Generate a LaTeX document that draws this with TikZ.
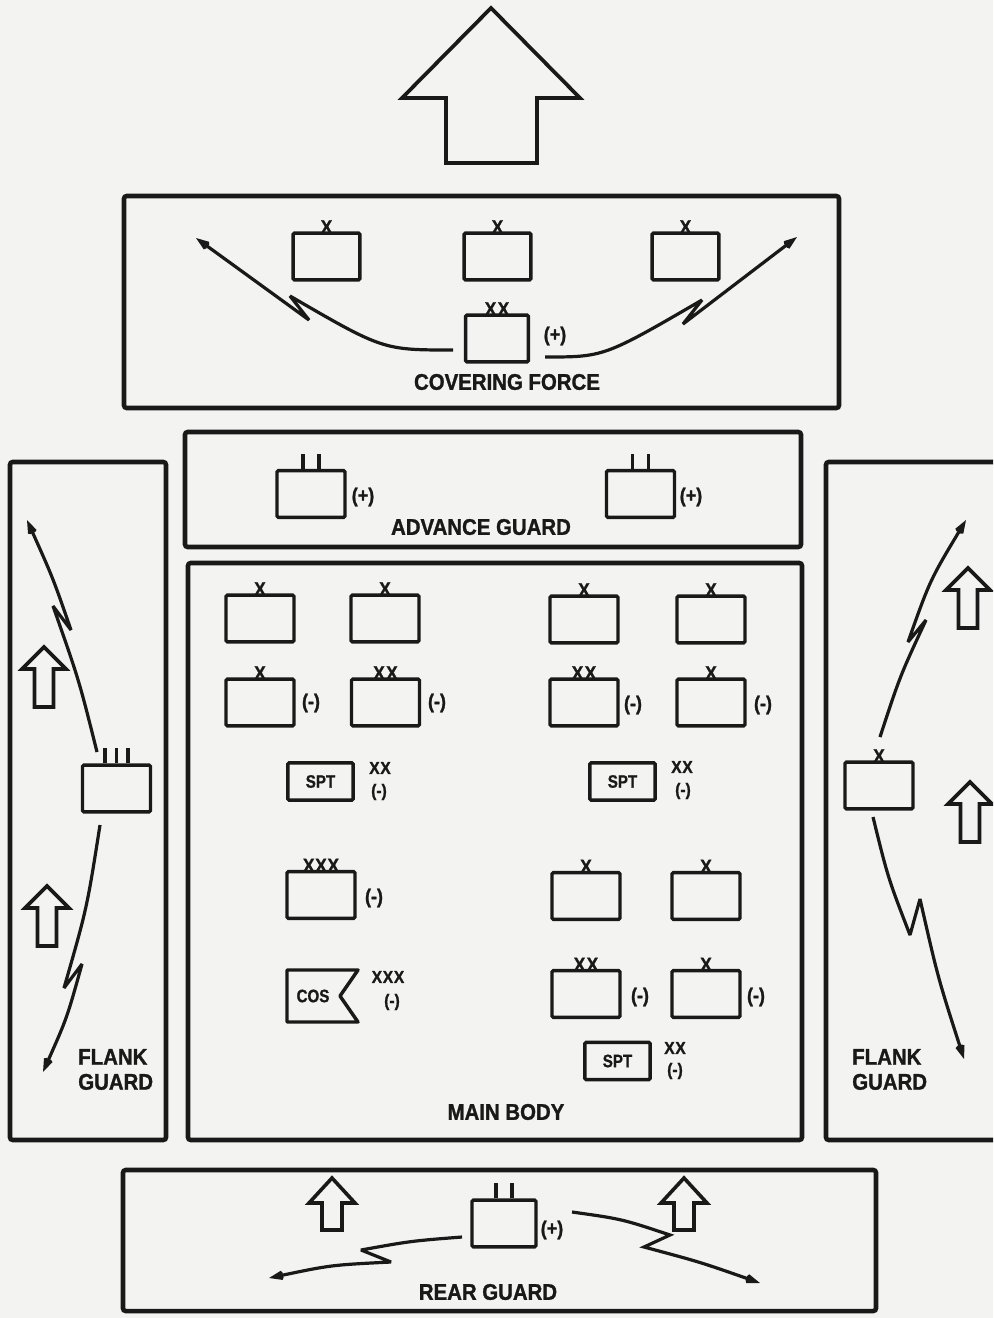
\documentclass[tikz,border=0pt]{standalone}
\usepackage{fontspec}
\setmainfont{Liberation Sans}
\newfontfamily\heavyf{Liberation Sans Bold}[FakeBold=1.2, FakeStretch=0.9]
\newfontfamily\unitf{Liberation Sans Bold}[FakeBold=1.0, FakeStretch=0.84]
\usetikzlibrary{arrows.meta,calc}
\definecolor{paper}{RGB}{243,243,241}
\definecolor{inkc}{RGB}{25,25,25}

\begin{document}
\begin{tikzpicture}[x=0.75pt,y=-0.75pt,
  frame/.style={draw=inkc, line width=3.4pt, rounded corners=2pt},
  unitbox/.style={draw=inkc, line width=2.6pt, rounded corners=1pt, minimum width=51pt, minimum height=35pt, inner sep=0pt},
  sptbox/.style={unitbox, minimum width=49pt, minimum height=28pt, font=\unitf\fontsize{13.5}{13.5}\selectfont, text=inkc},
  ech/.style={anchor=south, inner sep=0pt, yshift=-1.8pt, font=\heavyf\fontsize{14.5}{14.5}\selectfont, text=inkc},
  modf/.style={inner sep=0pt, font=\heavyf\fontsize{15}{15}\selectfont, text=inkc},
  stackf/.style={inner sep=0pt, font=\heavyf\fontsize{13}{13}\selectfont, text=inkc},
  title/.style={inner sep=0pt, font=\heavyf\fontsize{17}{18.75}\selectfont, text=inkc},
  zz/.style={draw=inkc, line width=2.4pt, miter limit=3, -{Stealth[length=14pt,width=10pt,inset=4.5pt]}},
  hollow/.style={draw=inkc, line width=2.7pt, line join=miter},
  tick/.style={draw=inkc, line width=2.5pt},
  flankup/.pic={\draw[hollow] (0,0) -- (22,22) -- (9.5,22) -- (9.5,60) -- (-9.5,60) -- (-9.5,22) -- (-22,22) -- cycle;},
  rearup/.pic={\draw[hollow] (0,0) -- (23,25) -- (10,25) -- (10,52) -- (-10,52) -- (-10,25) -- (-23,25) -- cycle;}
]
\useasboundingbox (0,0) rectangle (993,1318);
\fill[paper] (0,0) rectangle (993,1318);
\begin{scope}
\clip (0,0) rectangle (993,1318);

% ---------- big arrow ----------
\draw[hollow, line width=2.8pt] (491,8) -- (580,98) -- (537,98) -- (537,163) -- (446,163) -- (446,98) -- (402,98) -- cycle;

% ---------- frames ----------
\draw[frame] (124,196) rectangle (839,408);
\draw[frame] (185,432) rectangle (801,547);
\draw[frame] (188,563) rectangle (802,1140);
\draw[frame] (10,462) rectangle (166,1140);
\draw[frame] (826,462) rectangle (1010,1140);
\draw[frame] (123,1170) rectangle (876,1311);

% ---------- covering force ----------
\node[unitbox, minimum width=50pt] (cf1) at (326.5,256.5) {};
\node[ech] (cf1e) at (cf1.north) {X};
\node[unitbox, minimum width=50pt] (cf2) at (497.5,256.5) {};
\node[ech] (cf2e) at (cf2.north) {X};
\node[unitbox, minimum width=50pt] (cf3) at (685.5,256.5) {};
\node[ech] (cf3e) at (cf3.north) {X};
\node[unitbox, minimum width=47pt] (cfd) at (497,338.5) {};
\node[ech] (cfde) at (cfd.north) {X\kern1pt X};
\node[modf] (cfdm) at (555,336) {(+)};
\node[title] (cft) at (507,382) {COVERING FORCE};

\coordinate (cfLs) at (453,350); \coordinate (cfLa) at (290,296);
\coordinate (cfLb) at (309,320); \coordinate (cfLe) at (196,238);
\draw[zz] (cfLs) .. controls (383,350) .. (cfLa) -- (cfLb) -- (cfLe);
\coordinate (cfRs) at (545,357); \coordinate (cfRa) at (702,300);
\coordinate (cfRb) at (683,324); \coordinate (cfRe) at (797,237);
\draw[zz] (cfRs) .. controls (604,357) .. (cfRa) -- (cfRb) -- (cfRe);

% ---------- advance guard ----------
\node[unitbox] (ag1) at (311,494) {};
\draw[tick] ($(ag1.north)+(-8,0)$) -- ++(0,-15);
\draw[tick] ($(ag1.north)+(8,0)$) -- ++(0,-15);
\node[modf] (ag1m) at (363,497) {(+)};
\node[unitbox] (ag2) at (640.5,494) {};
\draw[tick] ($(ag2.north)+(-8,0)$) -- ++(0,-15);
\draw[tick] ($(ag2.north)+(8,0)$) -- ++(0,-15);
\node[modf] (ag2m) at (691,497) {(+)};
\node[title] (agt) at (481,527) {ADVANCE GUARD};

% ---------- main body, left column ----------
\node[unitbox] (m1) at (260,618.5) {};
\node[ech] (m1e) at (m1.north) {X};
\node[unitbox] (m2) at (385,618.5) {};
\node[ech] (m2e) at (m2.north) {X};
\node[unitbox] (m3) at (260,702.5) {};
\node[ech] (m3e) at (m3.north) {X};
\node[modf] (m3m) at (311,703) {(-)};
\node[unitbox] (m4) at (385.5,702.5) {};
\node[ech] (m4e) at (m4.north) {X\kern1pt X};
\node[modf] (m4m) at (437,703) {(-)};
\node[sptbox] (m5) at (320.5,781.5) {SPT};
\node[stackf] (m5e) at (380,768) {X\kern0.5pt X};
\node[stackf] (m5m) at (379,792) {(-)};
\node[unitbox] (m6) at (321,895) {};
\node[ech] (m6e) at (m6.north) {X\kern0.5pt X\kern0.5pt X};
\node[modf] (m6m) at (374,898) {(-)};
\draw[draw=inkc, line width=2.6pt, line join=round] (287,970) -- (358,970) -- (340,996) -- (358,1022) -- (287,1022) -- cycle;
\node[inner sep=0pt, font=\unitf\fontsize{13.5}{13.5}\selectfont, text=inkc] (m7) at (313,996) {COS};
\node[stackf] (m7e) at (388,977) {X\kern0.5pt X\kern0.5pt X};
\node[stackf] (m7m) at (392,1002) {(-)};

% ---------- main body, right column ----------
\node[unitbox] (n1) at (584,619.5) {};
\node[ech] (n1e) at (n1.north) {X};
\node[unitbox] (n2) at (711,619.5) {};
\node[ech] (n2e) at (n2.north) {X};
\node[unitbox] (n3) at (584,702.5) {};
\node[ech] (n3e) at (n3.north) {X\kern1pt X};
\node[modf] (n3m) at (633,705) {(-)};
\node[unitbox] (n4) at (711,702.5) {};
\node[ech] (n4e) at (n4.north) {X};
\node[modf] (n4m) at (763,705) {(-)};
\node[sptbox] (n5) at (622.5,781.5) {SPT};
\node[stackf] (n5e) at (682,767) {X\kern0.5pt X};
\node[stackf] (n5m) at (683,791) {(-)};
\node[unitbox] (n6) at (586,896) {};
\node[ech] (n6e) at (n6.north) {X};
\node[unitbox] (n7) at (706,896) {};
\node[ech] (n7e) at (n7.north) {X};
\node[unitbox] (n8) at (586,994) {};
\node[ech] (n8e) at (n8.north) {X\kern1pt X};
\node[modf] (n8m) at (640,997) {(-)};
\node[unitbox] (n9) at (706,994) {};
\node[ech] (n9e) at (n9.north) {X};
\node[modf] (n9m) at (756,997) {(-)};
\node[sptbox] (n10) at (617.5,1061) {SPT};
\node[stackf] (n10e) at (675,1048) {X\kern0.5pt X};
\node[stackf] (n10m) at (675,1071) {(-)};
\node[title] (mbt) at (506,1112) {MAIN BODY};

% ---------- left flank guard ----------
\node[unitbox] (lf) at (116.5,788.5) {};
\draw[tick] ($(lf.north)+(-11.5,0)$) -- ++(0,-15);
\draw[tick] (lf.north) -- ++(0,-15);
\draw[tick] ($(lf.north)+(11.5,0)$) -- ++(0,-15);
\pic at (44,647) {flankup};
\pic at (47,886) {flankup};
\coordinate (lfUs) at (97,752); \coordinate (lfUa) at (53,606);
\coordinate (lfUb) at (71,630); \coordinate (lfUe) at (27,520);
\draw[zz] (lfUs) .. controls (79,680) .. (lfUa) -- (lfUb) .. controls (53,578) .. (lfUe);
\coordinate (lfDs) at (100,825); \coordinate (lfDa) at (64,988);
\coordinate (lfDb) at (82,964); \coordinate (lfDe) at (43,1072);
\draw[zz] (lfDs) .. controls (87,908) .. (lfDa) -- (lfDb) .. controls (67,1018) .. (lfDe);
\node[title, anchor=west, align=left] (lft) at (78,1069.5) {FLANK\\GUARD};

% ---------- right flank guard ----------
\node[unitbox] (rf) at (879,785.5) {};
\node[ech] (rfe) at (rf.north) {X};
\pic at (968,568) {flankup};
\pic at (970,782) {flankup};
\coordinate (rfUs) at (880,737); \coordinate (rfUa) at (926,620);
\coordinate (rfUb) at (908,642); \coordinate (rfUe) at (966,520);
\draw[zz] (rfUs) .. controls (900,676) .. (rfUa) -- (rfUb) .. controls (930,580) .. (rfUe);
\coordinate (rfDs) at (873,817); \coordinate (rfDa) at (910,935);
\coordinate (rfDb) at (920,899); \coordinate (rfDe) at (964,1059);
\draw[zz] (rfDs) .. controls (888,878) .. (rfDa) -- (rfDb) .. controls (938,978) .. (rfDe);
\node[title, anchor=west, align=left] (rft) at (852,1069.5) {FLANK\\GUARD};

% ---------- rear guard ----------
\node[unitbox, minimum width=48pt] (rg) at (504,1223.5) {};
\draw[tick] ($(rg.north)+(-8,0)$) -- ++(0,-15);
\draw[tick] ($(rg.north)+(8,0)$) -- ++(0,-15);
\node[modf] (rgm) at (552,1230) {(+)};
\pic at (332,1178) {rearup};
\pic at (684,1178) {rearup};
\coordinate (rgLs) at (462,1237); \coordinate (rgLa) at (361,1250);
\coordinate (rgLb) at (391,1262); \coordinate (rgLe) at (269,1278);
\draw[zz] (rgLs) .. controls (411,1241) .. (rgLa) -- (rgLb) .. controls (331,1265) .. (rgLe);
\coordinate (rgRs) at (572,1212); \coordinate (rgRa) at (670,1235);
\coordinate (rgRb) at (644,1247); \coordinate (rgRe) at (760,1283);
\draw[zz] (rgRs) .. controls (622,1219) .. (rgRa) -- (rgRb) .. controls (700,1262) .. (rgRe);
\node[title] (rgt) at (488,1292) {REAR GUARD};
\end{scope}
\end{tikzpicture}
\end{document}
